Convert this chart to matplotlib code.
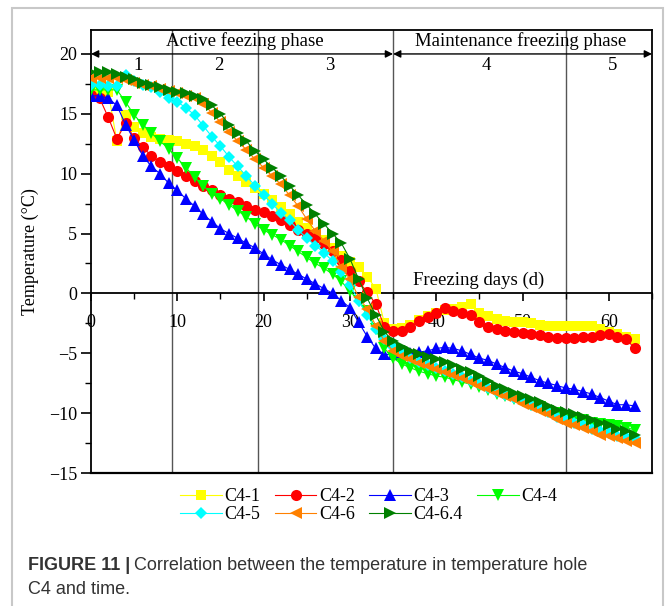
import matplotlib
matplotlib.use("Agg")
import matplotlib.pyplot as plt
from matplotlib.ticker import MultipleLocator, FixedLocator
from matplotlib.patches import Rectangle

days = list(range(0, 64))

c4_1 = [17.2, 17.0, 16.8, 12.7, 14.9, 13.9, 13.4, 13.1, 12.9, 12.8,
        12.7, 12.5, 12.3, 12.0, 11.5, 11.0, 10.3, 9.8, 9.3, 8.8,
        8.3, 7.8, 7.2, 6.6, 6.0, 5.5, 5.0, 4.5, 3.8, 3.1,
        2.6, 2.2, 1.4, 0.4, -2.5, -3.0, -2.9, -2.6, -2.2, -1.9,
        -1.6, -1.4, -1.3, -1.1, -0.9, -1.6, -1.9, -2.1, -2.3, -2.4,
        -2.4, -2.5, -2.6, -2.7, -2.7, -2.7, -2.7, -2.7, -2.7, -3.0,
        -3.2, -3.4, -3.6, -3.8]
c4_2 = [16.6, 16.3, 14.7, 12.9, 14.2, 13.0, 12.2, 11.5, 11.0, 10.6,
        10.2, 9.8, 9.4, 9.0, 8.6, 8.2, 7.9, 7.6, 7.3, 7.0,
        6.8, 6.5, 6.1, 5.7, 5.3, 5.0, 4.6, 4.1, 3.5, 2.8,
        1.9, 1.0, 0.1, -0.9, -2.8, -3.1, -3.1, -2.8, -2.3, -2.0,
        -1.6, -1.2, -1.5, -1.6, -1.8, -2.4, -2.8, -3.0, -3.1, -3.2,
        -3.3, -3.4, -3.5, -3.6, -3.7, -3.7, -3.7, -3.6, -3.6, -3.5,
        -3.4, -3.6, -3.8, -4.6]
c4_3 = [16.5, 16.5, 16.3, 15.7, 14.1, 12.8, 11.5, 10.6, 10.0, 9.2,
        8.6, 7.9, 7.3, 6.6, 6.0, 5.4, 5.0, 4.6, 4.2, 3.8,
        3.3, 2.8, 2.4, 2.0, 1.6, 1.2, 0.8, 0.4, 0.0, -0.6,
        -1.2, -2.4, -3.6, -4.6, -5.1, -5.1, -5.0, -5.0, -4.9, -4.8,
        -4.6, -4.5, -4.6, -4.8, -5.1, -5.4, -5.6, -5.9, -6.2, -6.5,
        -6.7, -7.0, -7.3, -7.5, -7.7, -7.9, -8.0, -8.2, -8.4, -8.7,
        -9.0, -9.3, -9.3, -9.4]
c4_4 = [17.0, 17.0, 17.0, 17.0, 16.0, 14.9, 14.1, 13.4, 12.7, 12.1,
        11.3, 10.5, 9.7, 9.0, 8.3, 7.9, 7.4, 6.9, 6.4, 5.8,
        5.3, 4.9, 4.5, 4.0, 3.5, 3.0, 2.5, 2.1, 1.6, 1.0,
        0.2, -0.6, -1.5, -3.0, -4.6, -5.4, -5.9, -6.2, -6.5, -6.7,
        -6.9, -7.0, -7.2, -7.4, -7.6, -7.8, -8.1, -8.4, -8.6, -8.8,
        -9.0, -9.3, -9.5, -9.8, -10.0, -10.2, -10.4, -10.6, -10.8, -10.9,
        -11.0, -11.1, -11.2, -11.4]
c4_5 = [17.4, 17.4, 17.3, 17.3, 18.2, 17.7, 17.4, 17.2, 16.8, 16.3,
        16.0, 15.5, 14.9, 14.0, 13.1, 12.3, 11.4, 10.6, 9.8, 9.0,
        8.2, 7.5, 6.7, 6.1, 5.3, 4.6, 4.0, 3.4, 2.7, 1.8,
        0.7, -0.6, -1.8, -3.0, -3.8, -4.5, -5.0, -5.4, -5.7, -6.0,
        -6.2, -6.5, -6.7, -7.0, -7.3, -7.6, -7.9, -8.2, -8.5, -8.7,
        -9.0, -9.3, -9.6, -9.9, -10.3, -10.6, -10.8, -11.0, -11.3, -11.5,
        -11.7, -11.9, -12.0, -12.1]
c4_6 = [18.0, 18.0, 18.0, 18.0, 17.8, 17.6, 17.4, 17.3, 17.1, 16.9,
        16.7, 16.5, 16.3, 15.8, 15.1, 14.3, 13.5, 12.7, 12.0, 11.2,
        10.5, 9.8, 9.1, 8.2, 7.3, 6.2, 5.2, 4.4, 3.5, 2.2,
        1.2, -0.3, -1.3, -2.7, -4.0, -4.8, -5.2, -5.5, -5.8, -6.1,
        -6.3, -6.6, -6.8, -7.1, -7.4, -7.7, -8.0, -8.3, -8.6, -8.8,
        -9.2, -9.5, -9.8, -10.1, -10.5, -10.8, -11.0, -11.2, -11.5, -11.8,
        -11.9, -12.1, -12.3, -12.5]
c4_64 = [18.5, 18.5, 18.5, 18.3, 18.1, 17.9, 17.6, 17.4, 17.2, 17.0,
         16.8, 16.7, 16.5, 16.2, 15.7, 15.0, 14.1, 13.4, 12.7, 11.9,
         11.2, 10.5, 9.8, 9.0, 8.2, 7.4, 6.6, 5.8, 5.0, 4.2,
         2.9, 1.2, -0.4, -1.8, -3.2, -4.0, -4.5, -4.8, -5.1, -5.3,
         -5.5, -5.7, -6.0, -6.3, -6.6, -6.9, -7.3, -7.7, -8.0, -8.3,
         -8.6, -8.8, -9.1, -9.4, -9.7, -9.9, -10.1, -10.3, -10.6, -10.8,
         -11.0, -11.3, -11.5, -11.8]

labels = ["C4-1", "C4-2", "C4-3", "C4-4", "C4-5", "C4-6", "C4-6.4"]
series = [c4_1, c4_2, c4_3, c4_4, c4_5, c4_6, c4_64]
colors = ["#FFFF00", "#FF0000", "#0000FF", "#00FF00", "#00FFFF", "#FF8000", "#008000"]
markers = ["s", "o", "^", "v", "D", "<", ">"]
msizes = [7.5, 8, 8.5, 8.5, 6.5, 8.5, 8.5]

phase_lines = [9.4, 19.3, 35, 55]
phase_nums = ["1", "2", "3", "4", "5"]
phase_num_x = [5.4, 14.8, 27.7, 45.8, 60.4]

serif = ["Liberation Serif", "DejaVu Serif"]

fig = plt.figure(figsize=(6.65, 6.06), dpi=100)
fig.patches.append(Rectangle((12 / 665, -0.01), 651 / 665, 1 - 8 / 606 + 0.01,
                             transform=fig.transFigure, fill=False,
                             edgecolor="#c8c8c8", lw=1.5))
ax = fig.add_axes([91 / 665, 1 - 473 / 606, (652 - 91) / 665, (473 - 30) / 606])

for xl in phase_lines:
    ax.axvline(xl, color="#555555", lw=1.0, zorder=1)

handles = []
for y, lab, c, m, ms in zip(series, labels, colors, markers, msizes):
    h, = ax.plot(days, y, color=c, marker=m, markersize=ms, markeredgewidth=0,
                 lw=0.8, label=lab, zorder=3)
    handles.append(h)

ax.set_xlim(0, 65)
ax.set_ylim(-15, 22)

for s in ["top", "right", "left"]:
    ax.spines[s].set_linewidth(1.3)
ax.spines["bottom"].set_position(("data", 0))
ax.spines["bottom"].set_linewidth(1.3)
ax.axhline(-15, color="black", lw=1.6, clip_on=False, zorder=5)

ax.yaxis.set_major_locator(FixedLocator([-15, -10, -5, 0, 5, 10, 15, 20]))
ax.yaxis.set_minor_locator(FixedLocator([-12.5, -7.5, -2.5, 2.5, 7.5, 12.5, 17.5]))
ax.xaxis.set_major_locator(MultipleLocator(10))
ax.xaxis.set_minor_locator(MultipleLocator(5))
ax.set_xticks([0, 10, 20, 30, 40, 50, 60])
ax.tick_params(axis="y", which="major", direction="out", length=7, width=1.2, pad=3)
ax.tick_params(axis="y", which="minor", direction="out", length=4, width=1.0)
ax.tick_params(axis="x", which="major", direction="out", length=6, width=1.2, pad=9)
ax.tick_params(axis="x", which="minor", direction="out", length=4, width=1.0)
for t in ax.get_xticklabels() + ax.get_yticklabels():
    t.set_fontfamily(serif)
    t.set_fontsize(13)

ax.set_ylabel("Temperature (°C)", fontfamily=serif, fontsize=13, labelpad=7)

# phase arrows
ax.annotate("", xy=(0, 20), xytext=(35, 20),
            arrowprops=dict(arrowstyle="<|-|>", color="black", lw=1.0,
                            shrinkA=0, shrinkB=0, mutation_scale=11), zorder=6)
ax.annotate("", xy=(35, 20), xytext=(65, 20),
            arrowprops=dict(arrowstyle="<|-|>", color="black", lw=1.0,
                            shrinkA=0, shrinkB=0, mutation_scale=11), zorder=6)
ax.text(17.8, 20.35, "Active feezing phase", ha="center", va="bottom",
        fontfamily=serif, fontsize=13.5)
ax.text(49.8, 20.35, "Maintenance freezing phase", ha="center", va="bottom",
        fontfamily=serif, fontsize=13.5)
for nx, nl in zip(phase_num_x, phase_nums):
    ax.text(nx, 19.75, nl, ha="center", va="top", fontfamily=serif, fontsize=13.5)
ax.text(44.9, 0.35, "Freezing days (d)", ha="center", va="bottom",
        fontfamily=serif, fontsize=13.5, zorder=6)

# legend filled row-wise: reorder for matplotlib's column-major layout
order = [0, 4, 1, 5, 2, 6, 3]
leg = ax.legend([handles[i] for i in order], [labels[i] for i in order],
                loc="upper center", bbox_to_anchor=(0.495, -0.01), ncol=4,
                frameon=False, prop={"family": serif, "size": 13},
                handlelength=2.3, handletextpad=0.15, columnspacing=0.8,
                labelspacing=0.05, borderpad=0.1)

# caption
fig.canvas.draw()
t1 = fig.text(28 / 665, 1 - 566 / 606, "FIGURE 11 |", fontfamily="Liberation Sans",
              fontweight="bold", fontsize=13, color="#333333", va="center")
fig.canvas.draw()
bb = t1.get_window_extent()
x1 = bb.x1 / fig.bbox.width + 4 / 665
fig.text(x1, 1 - 566 / 606, "Correlation between the temperature in temperature hole",
         fontfamily="Liberation Sans", fontsize=13, color="#333333", va="center")
fig.text(28 / 665, 1 - 589 / 606, "C4 and time.", fontfamily="Liberation Sans",
         fontsize=13, color="#333333", va="center")

fig.savefig("out.png", dpi=100)
